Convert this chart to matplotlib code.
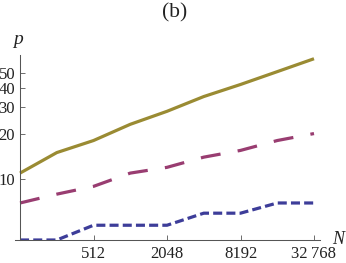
import matplotlib.pyplot as plt

plt.rcParams['font.family'] = ['Liberation Serif', 'DejaVu Serif']
plt.rcParams['lines.scale_dashes'] = False

# dados
N = [128, 256, 512, 1024, 2048, 4096, 8192, 16384, 32768]
p_gold = [11, 15, 18, 23, 28, 35, 42, 51, 62]
p_magenta = [7, 8, 9, 11, 12, 14, 15.5, 18, 20]
p_blue = [4, 4, 5, 5, 5, 6, 6, 7, 7]

xticks = [512, 2048, 8192, 32768]
xlabels = ['512', '2048', '8192', '32\u2009768']
yticks = [10, 20, 30, 40, 50]

fig = plt.figure(figsize=(3.46, 2.63), dpi=100)
ax = fig.add_axes([15 / 346, 23 / 263, 305 / 346, 185 / 263])

ax.plot(N, p_gold, color='#9a8b33', lw=2.3, solid_capstyle='butt')
ax.plot(N, p_magenta, color='#993d71', lw=2.3, dashes=(14.4, 12.5), dash_capstyle='butt')
ax.plot(N, p_blue, color='#3d3d99', lw=2.3, dashes=(6.5, 3), dash_capstyle='butt')

ax.set_xscale('log', base=2)
ax.set_yscale('log')
ax.set_xlim(116.4, 36700)
ax.set_ylim(4, 65.6)

for s in ['top', 'right']:
    ax.spines[s].set_visible(False)
ax.spines['left'].set_position(('data', 128))
for s in ['left', 'bottom']:
    ax.spines[s].set_color('#555555')
    ax.spines[s].set_linewidth(0.75)

ax.set_xticks(xticks)
ax.set_xticklabels(xlabels)
ax.set_yticks(yticks)
ax.set_yticklabels([str(v) for v in yticks])
ax.minorticks_off()
ax.tick_params(direction='in', length=3.5, width=0.6, color='#555555',
               labelsize=12, labelcolor='#222222')
ax.tick_params(axis='x', pad=4)
ax.tick_params(axis='y', pad=3.5)

fig.text(18 / 346, 1 - 40 / 263, 'p', style='italic', fontsize=14,
         ha='center', va='center', color='#222222')
fig.text(338 / 346, 1 - 239 / 263, 'N', style='italic', fontsize=13,
         ha='center', va='center', color='#222222')
fig.text(175 / 346, 1 - 13 / 263, '(b)', fontsize=15.5,
         ha='center', va='center', color='#222222')

fig.savefig('out.png', dpi=100)
